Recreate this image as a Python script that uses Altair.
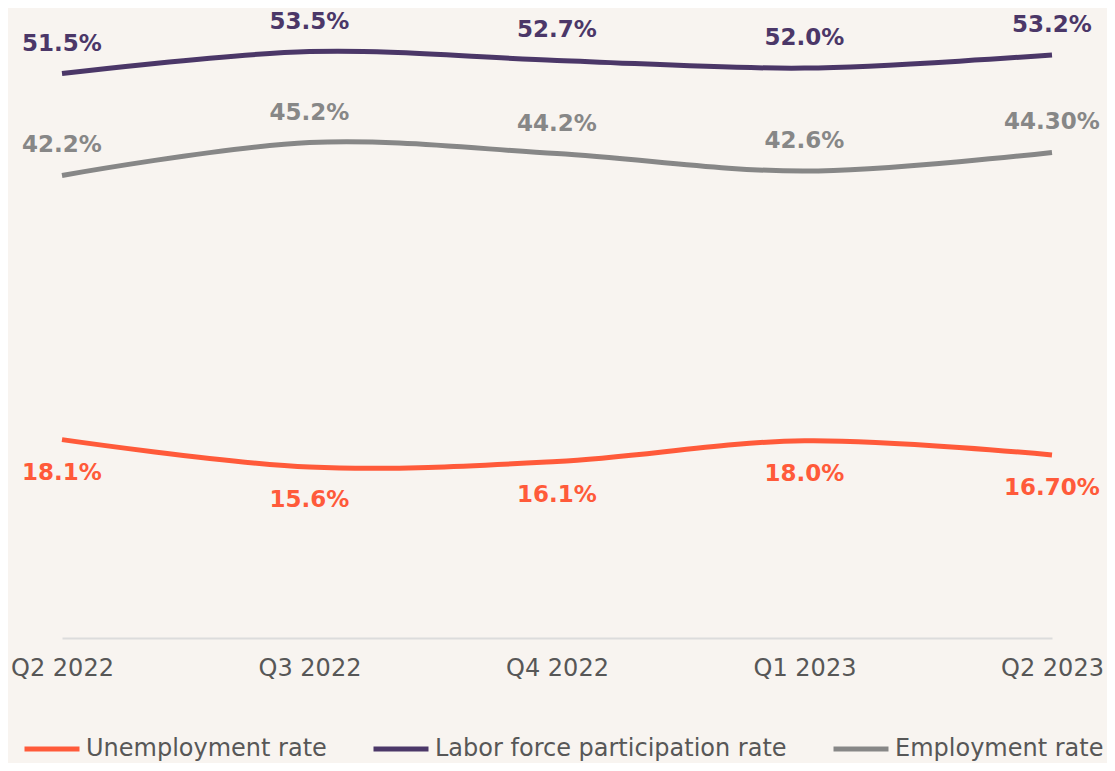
import altair as alt
import pandas as pd

quarters = ["Q2 2022", "Q3 2022", "Q4 2022", "Q1 2023", "Q2 2023"]
series_names = ["Unemployment rate", "Labor force participation rate", "Employment rate"]
unemployment = [18.1, 15.6, 16.1, 18.0, 16.7]
participation = [51.5, 53.5, 52.7, 52.0, 53.2]
employment = [42.2, 45.2, 44.2, 42.6, 44.3]
unemployment_labels = ["18.1%", "15.6%", "16.1%", "18.0%", "16.70%"]
participation_labels = ["51.5%", "53.5%", "52.7%", "52.0%", "53.2%"]
employment_labels = ["42.2%", "45.2%", "44.2%", "42.6%", "44.30%"]
colors = ["#ff5a3a", "#4b3768", "#878787"]

rows = []
for name, vals, labs in zip(series_names,
                            [unemployment, participation, employment],
                            [unemployment_labels, participation_labels, employment_labels]):
    for q, v, l in zip(quarters, vals, labs):
        rows.append({"quarter": q, "series": name, "value": v, "label": l})
df = pd.DataFrame(rows)

FONT = "DejaVu Sans"

x = alt.X("quarter:N", sort=quarters, scale=alt.Scale(padding=0),
          axis=alt.Axis(title=None, labelAngle=0, ticks=False, grid=False,
                        domainColor="#dcdcdc", domainWidth=2,
                        labelFontSize=24, labelColor="#575757", labelFont=FONT,
                        labelPadding=18))
y = alt.Y("value:Q", scale=alt.Scale(domain=[0, 56.75], nice=False, zero=True), axis=None)
color = alt.Color("series:N", sort=series_names,
                  scale=alt.Scale(domain=series_names, range=colors),
                  legend=alt.Legend(title=None, orient="none", direction="horizontal",
                                    legendX=-40, legendY=703,
                                    symbolType="stroke", symbolStrokeWidth=5,
                                    symbolSize=3025, labelFontSize=24,
                                    labelColor="#575757", labelFont=FONT, labelLimit=500,
                                    labelOffset=4, columnPadding=36, padding=0))

base = alt.Chart(df)
lines = base.mark_line(strokeWidth=5, interpolate="cardinal").encode(x=x, y=y, color=color)

label_color = alt.Color("series:N", scale=alt.Scale(domain=series_names, range=colors), legend=None)
above = base.transform_filter(alt.datum.series != "Unemployment rate").mark_text(
    dy=-30, fontSize=23, fontWeight="bold", font=FONT, baseline="middle", align="center"
).encode(x=x, y=y, text="label:N", color=label_color)
below = base.transform_filter(alt.datum.series == "Unemployment rate").mark_text(
    dy=33, fontSize=23, fontWeight="bold", font=FONT, baseline="middle", align="center"
).encode(x=x, y=y, text="label:N", color=label_color)

chart = alt.layer(lines, above, below).properties(
    width=990, height=622,
    background="#f8f4f0",
    autosize=alt.AutoSizeParams(type="none"),
    padding={"left": 54, "top": 8, "right": 55, "bottom": 125},
).configure_view(stroke=None)

chart.save("out.html", embed_options={"renderer": "svg", "actions": False})
